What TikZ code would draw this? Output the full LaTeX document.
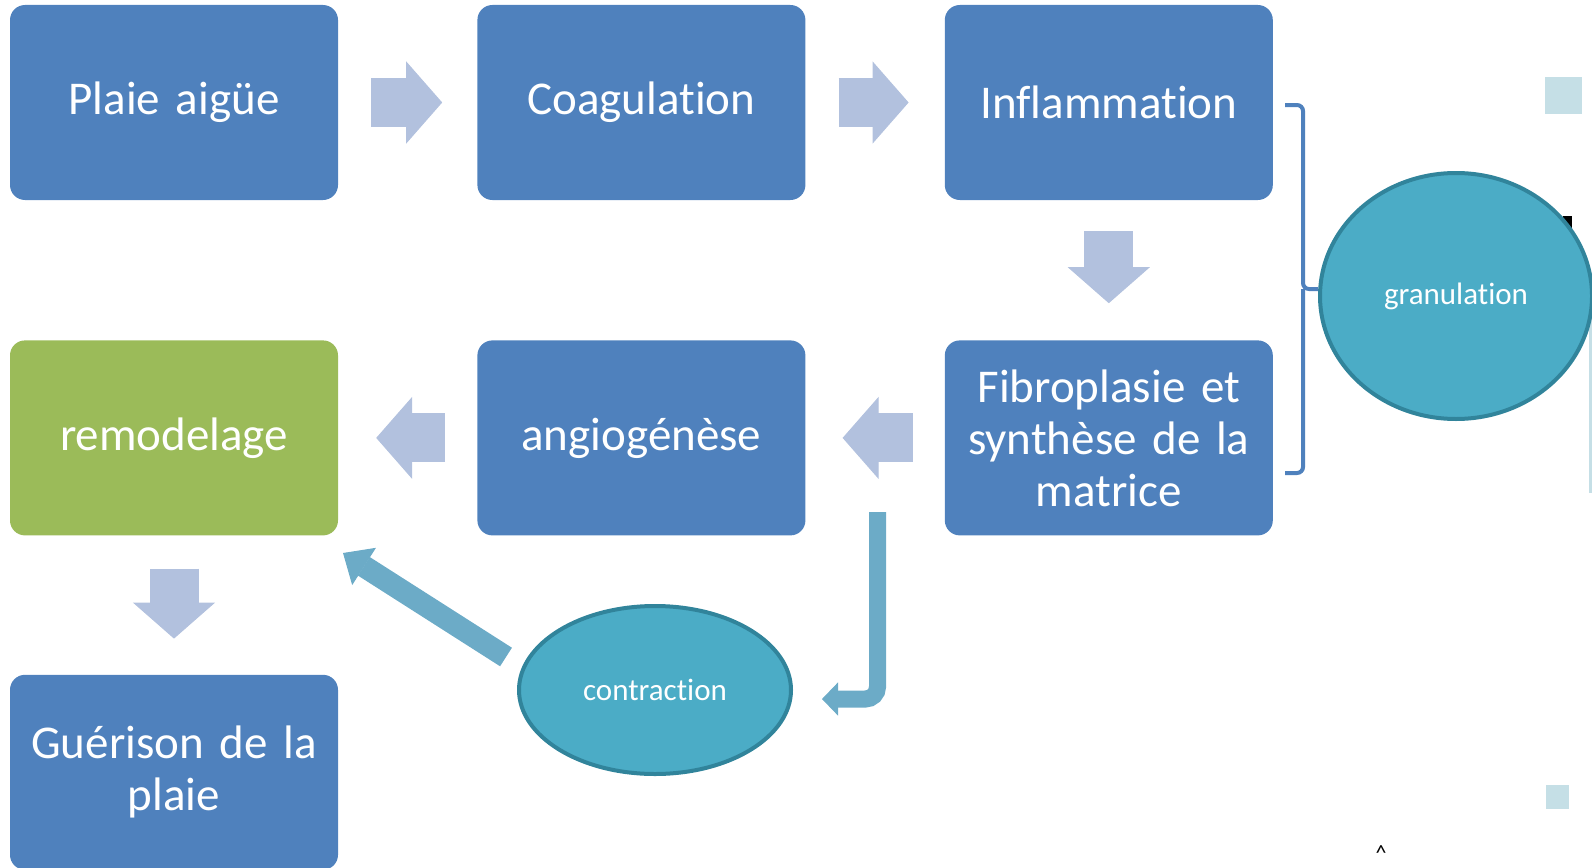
\documentclass[tikz,border=0pt]{standalone}
\usepackage{fontspec}
\setmainfont{Carlito}[Ligatures=NoCommon]
\usetikzlibrary{positioning}
\usetikzlibrary{shapes.geometric}
\usetikzlibrary{arrows.meta}

\definecolor{boxblue}{HTML}{4F81BD}
\definecolor{boxgreen}{HTML}{9BBB59}
\definecolor{flowgrey}{HTML}{B2C1DE}
\definecolor{phaseteal}{HTML}{4BACC6}
\definecolor{phaseedge}{HTML}{31849B}
\definecolor{contrblue}{HTML}{6CABC7}
\definecolor{decolight}{HTML}{C5DFE6}

\begin{document}
\begin{tikzpicture}[
        x = 1pt, y = -1pt,
        phase/.style = {
            rectangle,
            rounded corners = 15pt,
            fill = #1,
            text = white,
            minimum width = 328pt,
            minimum height = 195pt,
            text width = 310pt,
            align = center,
            inner sep = 0pt,
            font = \fontsize{47}{52}\selectfont
        },
        phase/.default = boxblue,
        stage/.style = {
            ellipse,
            draw = phaseedge,
            line width = 4pt,
            fill = phaseteal,
            text = white,
            inner sep = 0pt,
            font = \fontsize{31}{37}\selectfont
        },
        flow/.style = {
            draw = flowgrey,
            line width = 49pt,
            -{Triangle[length=36pt, width=82pt, line width=1pt]}
        },
        push/.style = {
            draw = contrblue,
            line width = 22pt,
            -{Triangle[length=25pt, width=44pt, line width=1pt]}
        },
        node distance = {139pt}
        ]
        \useasboundingbox (0,0) rectangle (1592,867);
%
        \fill[decolight] (1545,77) rectangle (1582,114);
        \fill[decolight] (1546,785) rectangle (1569,809);
        \fill[decolight] (1589,317) rectangle (1592,493);
        \fill[black] (1563,216) rectangle (1572,236);
%
        \node[phase] (plaie) at (174,102.5) {Plaie aigüe};
        \node[phase, right=of plaie] (coag) {Coagulation};
        \node[phase, right=of coag] (infl) {Inflammation};
%
        \node[phase, below=140pt of infl] (fibro) {Fibroplasie et\\synthèse de la\\matrice};
        \node[phase, below=140pt of coag] (angio) {angiogénèse};
        \node[phase=boxgreen, below=140pt of plaie] (remod) {remodelage};
%
        \node[phase, below=of remod] (guer) {Guérison de la\\plaie};
%
        \node[stage, minimum width=272pt, minimum height=246pt] (granul) at (1456,296) {granulation};
        \node[stage, minimum width=272pt, minimum height=168pt] (contr) at (655,690) {contraction};
%
        \draw[flow, shorten <=33pt, shorten >=35pt] (plaie) -- (coag);
        \draw[flow, shorten <=33pt, shorten >=36pt] (coag) -- (infl);
        \draw[flow, shorten <=31pt, shorten >=37pt] (infl) -- (fibro);
        \draw[flow, shorten <=32pt, shorten >=37pt] (fibro) -- (angio);
        \draw[flow, shorten <=32pt, shorten >=38pt] (angio) -- (remod);
        \draw[flow, shorten <=33pt, shorten >=36pt] (remod) -- (guer);
%
        \coordinate (contr tail) at (506,657);
        \coordinate (remod tip) at (343,553);
        \coordinate (bend start) at (877.5,512);
        \draw[push] (contr tail) -- (remod tip);
        \draw[push, line width=17pt, -{Triangle[length=16pt, width=33pt, line width=1pt]},
              rounded corners=12pt, shorten >=29pt] (bend start) |- ([yshift=-9pt]contr.east);
%
        \draw[boxblue, line width=4pt, rounded corners=6pt]
            (1285,105) -- (1303,105) -- (1303,289) -- (granul.west |- 0,289);
        \draw[boxblue, line width=4pt, rounded corners=6pt]
            (1303,289) -- (1303,473) -- (1285,473);
%
        \node[anchor=base, inner sep=0pt, font=\fontsize{22}{22}\selectfont] (caret) at (1381,860) {\textasciicircum};
\end{tikzpicture}
\end{document}
